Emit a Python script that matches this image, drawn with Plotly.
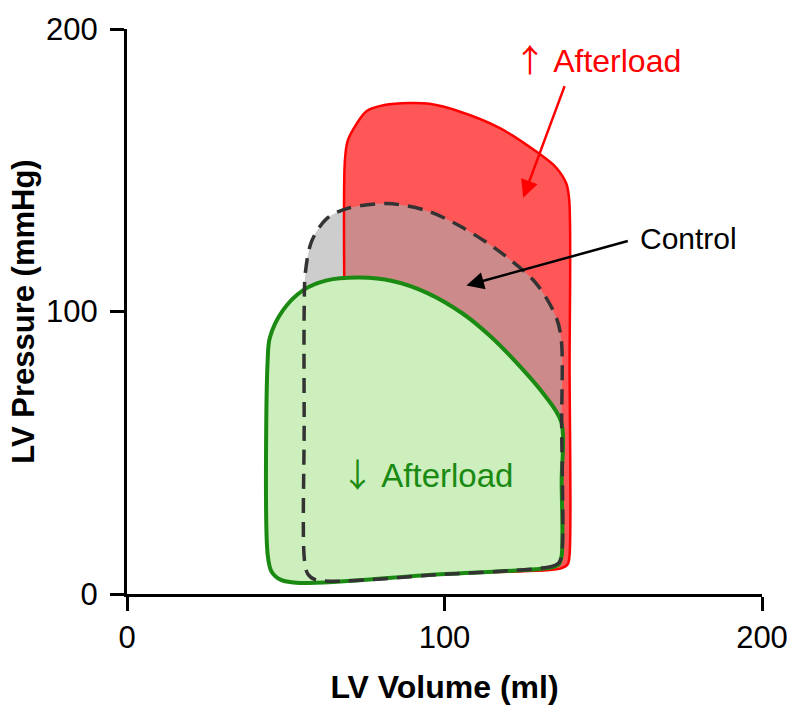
import plotly.graph_objects as go

# ---- data (LV volume in ml, LV pressure in mmHg) ----
high_vol = [100, 136.5, 138.8, 139.4, 139.4, 139.3, 138.4, 135.2, 129.9, 117.3, 104.7, 95.3, 89.0, 81.1, 75.5, 72.3, 69.5, 68.6, 68.6, 68.6, 69.5, 72.0, 100]
high_pres = [7.5, 9.0, 10.5, 14.0, 80.0, 139.2, 145.2, 150.9, 155.8, 165.0, 170.8, 173.5, 173.8, 173.1, 171.0, 166.4, 160.4, 153.0, 80.0, 12.0, 8.0, 6.2, 7.5]

control_vol = [100, 133.5, 136.0, 136.9, 136.9, 136.8, 135.2, 128.9, 118.2, 105.7, 94.3, 81.8, 69.2, 62.9, 58.2, 56.2, 55.8, 55.8, 55.9, 57.0, 59.5, 100]
control_pres = [7.0, 9.7, 11.0, 14.0, 60.0, 89.8, 97.9, 109.9, 120.5, 129.7, 135.7, 138.2, 136.4, 132.9, 125.0, 114.0, 100.0, 60.0, 12.0, 7.0, 5.0, 7.0]

low_vol = [95, 133.5, 136.0, 136.9, 136.9, 136.8, 130.8, 122.6, 114.2, 105.7, 94.3, 83.6, 73.3, 62.9, 55.3, 49.1, 45.0, 44.3, 44.3, 45.5, 48.5, 54.4, 95]
low_pres = [6.75, 9.4, 10.5, 13.5, 40.0, 60.8, 71.4, 82.0, 91.5, 99.3, 106.7, 110.8, 112.0, 111.0, 107.4, 100.4, 90.8, 82.7, 14.0, 8.0, 5.0, 3.9, 6.75]

x_ticks = [0, 100, 200]
y_ticks = [0, 100, 200]

FONT = "Liberation Sans, Arial, sans-serif"
ARROW_FONT = "'Noto Sans CJK JP'"
SM = 0.9

fig = go.Figure()

# increased afterload: fill
fig.add_trace(go.Scatter(x=high_vol, y=high_pres, mode="lines", fill="toself",
                         fillcolor="rgba(255,40,40,0.78)", line=dict(width=0, shape="spline", smoothing=SM),
                         hoverinfo="skip", showlegend=False))
# control fill
fig.add_trace(go.Scatter(x=control_vol, y=control_pres, mode="lines", fill="toself",
                         fillcolor="rgba(172,172,172,0.6)", line=dict(width=0, shape="spline", smoothing=SM),
                         hoverinfo="skip", showlegend=False))
# increased afterload: outline
fig.add_trace(go.Scatter(x=high_vol, y=high_pres, mode="lines",
                         line=dict(color="#ff0000", width=2.5, shape="spline", smoothing=SM),
                         hoverinfo="skip", showlegend=False))
# decreased afterload
fig.add_trace(go.Scatter(x=low_vol, y=low_pres, mode="lines", fill="toself",
                         fillcolor="rgb(205,239,189)",
                         line=dict(color="#1a8a12", width=4, shape="spline", smoothing=SM),
                         hoverinfo="skip", showlegend=False))
# control dashed outline
fig.add_trace(go.Scatter(x=control_vol, y=control_pres, mode="lines",
                         line=dict(color="#333333", width=3.5, dash="15px,9px", shape="spline", smoothing=SM),
                         hoverinfo="skip", showlegend=False))

# arrows
fig.add_annotation(x=124.8, y=140.3, ax=138, ay=180.3, xref="x", yref="y", axref="x", ayref="y",
                   text="", showarrow=True, arrowhead=2, arrowsize=1.4, arrowwidth=2.5, arrowcolor="#ff0000")
fig.add_annotation(x=106.9, y=109.2, ax=158.2, ay=125.1, xref="x", yref="y", axref="x", ayref="y",
                   text="", showarrow=True, arrowhead=2, arrowsize=1.4, arrowwidth=2.5, arrowcolor="#000000")

# labels
fig.add_annotation(x=121.3, y=189.8, xref="x", yref="y", xanchor="left",
                   text=f"<span style=\"font-family:{ARROW_FONT}\">↑</span> Afterload", showarrow=False,
                   font=dict(family=FONT, size=32, color="#ff0000"))
fig.add_annotation(x=161, y=125.8, xref="x", yref="y", text="Control", showarrow=False, xanchor="left",
                   font=dict(family=FONT, size=30, color="#000000"))
fig.add_annotation(x=66.8, y=42.8, xref="x", yref="y", xanchor="left",
                   text=f"<span style=\"font-family:{ARROW_FONT}\">↓</span> Afterload", showarrow=False,
                   font=dict(family=FONT, size=33, color="#1a8a12"))

fig.update_layout(
    width=800, height=719,
    margin=dict(l=127, r=35, t=28, b=125),
    paper_bgcolor="white", plot_bgcolor="white",
    font=dict(family=FONT, color="black"),
    xaxis=dict(range=[0, 200], tickvals=x_ticks, ticks="outside", ticklen=14, tickwidth=3,
               tickcolor="black", showline=True, linecolor="black", linewidth=3,
               showgrid=False, zeroline=False, tickfont=dict(size=31), ticklabelstandoff=0,
               title=dict(text="<b>LV Volume (ml)</b>", font=dict(size=32), standoff=22)),
    yaxis=dict(range=[0, 200], tickvals=y_ticks, ticks="outside", ticklen=14, tickwidth=3,
               tickcolor="black", showline=True, linecolor="black", linewidth=3,
               showgrid=False, zeroline=False, tickfont=dict(size=31), ticklabelstandoff=6,
               title=dict(text="<b>LV Pressure (mmHg)</b>", font=dict(size=31), standoff=3)),
)

fig.write_html("out.html")
